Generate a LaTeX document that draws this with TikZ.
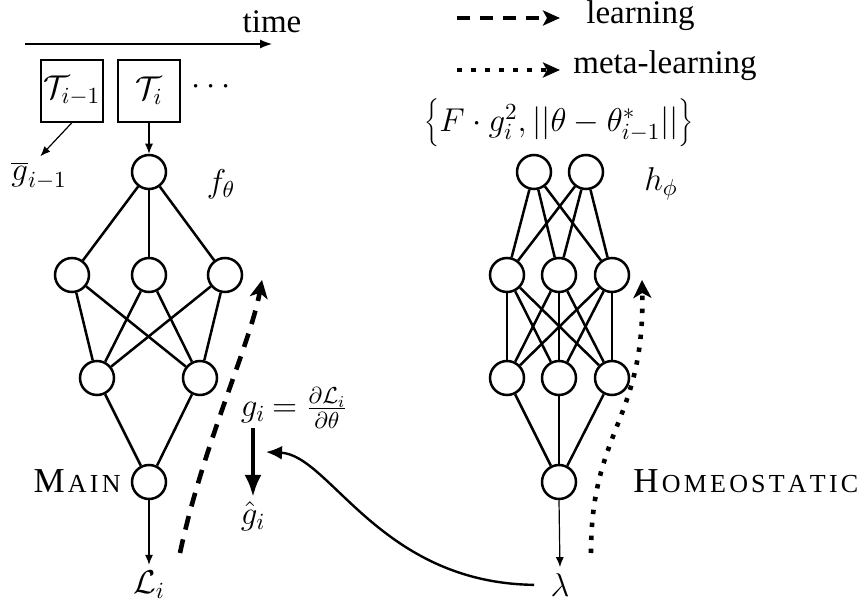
\RequirePackage{fix-cm}
\documentclass[tikz,border=0pt]{standalone}
\usepackage[no-math]{fontspec}
\setmainfont{Liberation Serif}
\usetikzlibrary{arrows.meta,calc}
\newcommand{\mycapbig}{\fontsize{17.5}{20}\selectfont}
\newcommand{\mycapsmall}{\fontsize{13}{16}\selectfont}
\newcommand{\myls}{\kern1.6pt}
\tikzset{
  neuron/.style={circle, draw, line width=1.25pt, minimum size=17pt, inner sep=0pt},
  taskbox/.style={draw, line width=0.6pt, minimum size=31pt, inner sep=0pt},
  conn/.style={line width=1.25pt},
  thinarrow/.style={line width=0.6pt, -{Latex[length=5pt,width=4pt]}},
  learnarrow/.style={line width=2.3pt, dash pattern=on 7pt off 5pt, -{Stealth[length=9pt,width=9pt,inset=2.5pt]}},
  metaarrow/.style={line width=2.3pt, dash pattern=on 2.2pt off 4.3pt, -{Stealth[length=9pt,width=9pt,inset=2.5pt]}},
  legdash/.style={line width=2.2pt, dash pattern=on 6.5pt off 5pt, -{Stealth[length=8.5pt,width=7.5pt,inset=2pt]}},
  legdot/.style={line width=2.3pt, dash pattern=on 2.4pt off 4.6pt, -{Stealth[length=8.5pt,width=7.5pt,inset=2pt]}},
  bigarrow/.style={line width=2pt, -{Latex[length=11pt,width=8.5pt]}},
  curvearrow/.style={line width=1.2pt, -{Latex[length=8pt,width=7pt]}},
  lbl/.style={inner sep=2pt}
}
\begin{document}
\begin{tikzpicture}[x=0.5pt,y=-0.5pt, font=\fontsize{16.5}{20}\selectfont]
\useasboundingbox (0,0) rectangle (862,604);

% time axis
\coordinate (t0) at (25,44);
\coordinate (t1) at (272,44);
\draw[line width=0.6pt, -{Latex[length=6pt,width=4.5pt]}] (t0) -- (t1);
\node[lbl] (time) at (272,22) {time};

% legend
\coordinate (ld0) at (457,18);
\coordinate (ld1) at (560,18);
\draw[legdash] (ld0) -- (ld1);
\node[inner sep=0pt, anchor=west] (learn) at (586,16) {learning};
\coordinate (lm0) at (457,70);
\coordinate (lm1) at (560,70);
\draw[legdot] (lm0) -- (lm1);
\node[inner sep=0pt, anchor=west] (meta) at (573,66) {meta-learning};

% tasks
\node[taskbox] (Tim1) at (72,91) {$\mathcal{T}_{i-1}$};
\node[taskbox] (Ti) at (149,91) {$\mathcal{T}_i$};
\node[lbl] (dots) at (211,87) {$\cdots$};
\node[lbl] (gbar) at (39,176) {$\overline{g}_{i-1}$};
\draw[thinarrow, shorten >=1pt] (Tim1.south) -- (gbar.north);

% main network
\node[neuron] (m0) at (149,172) {};
\node[neuron] (m1) at (72,275) {};
\node[neuron] (m2) at (149,275) {};
\node[neuron] (m3) at (225,275) {};
\node[neuron] (m4) at (97,378) {};
\node[neuron] (m5) at (200,378) {};
\node[neuron] (m6) at (149,482) {};
\draw[thinarrow] (Ti.south) -- (m0.north);
\foreach \a in {m1,m2,m3} \draw[conn] (m0) -- (\a);
\foreach \a in {m1,m2,m3} \foreach \b in {m4,m5} \draw[conn] (\a) -- (\b);
\foreach \a in {m4,m5} \draw[conn] (\a) -- (m6);
\node[lbl] (ftheta) at (221,184) {$f_\theta$};
\node[lbl, anchor=east] (main) at (125,481) {{\mycapbig M\myls}{\mycapsmall A\myls I\myls N}};
\node[lbl] (Li) at (149,585) {$\mathcal{L}_i$};
\draw[thinarrow, shorten >=1pt] (m6.south) -- (Li.north);

% gradient
\node[lbl] (gi) at (253,413) {$g_i$};
\node[lbl, anchor=base west, inner sep=0pt] (gfrac) at ($(gi.base east)+(2,0)$) {$=\frac{\partial\mathcal{L}_i}{\partial\theta}$};
\node[lbl] (ghat) at (253,516) {$\hat{g}_i$};
\draw[bigarrow] (gi.south) -- (ghat.north);

% learning arrow
\coordinate (la0) at (180,553);
\coordinate (la1) at (262,280);
\draw[learnarrow] (la0) .. controls (203,445) and (250,345) .. (la1);

% homeostatic network
\node[inner sep=0pt] (set) at (559,123) {$\bigg\{F\cdot g_i^2, ||\theta-\theta^*_{i-1}||\bigg\}$};
\node[neuron] (h1) at (534,172) {};
\node[neuron] (h2) at (586,172) {};
\node[neuron] (h3) at (507,275) {};
\node[neuron] (h4) at (559,275) {};
\node[neuron] (h5) at (612,275) {};
\node[neuron] (h6) at (507,378) {};
\node[neuron] (h7) at (559,378) {};
\node[neuron] (h8) at (612,378) {};
\node[neuron] (h9) at (559,482) {};
\foreach \a in {h1,h2} \foreach \b in {h3,h4,h5} \draw[conn] (\a) -- (\b);
\foreach \a in {h3,h4,h5} \foreach \b in {h6,h7,h8} \draw[conn] (\a) -- (\b);
\foreach \a in {h6,h7,h8} \draw[conn] (\a) -- (h9);
\node[lbl] (hphi) at (661,184) {$h_\phi$};
\node[lbl, anchor=west] (homeo) at (629,481) {{\mycapbig H\myls}{\mycapsmall O\myls M\myls E\myls O\myls S\myls T\myls A\myls T\myls I\myls C}};
\node[lbl] (lam) at (560,585) {$\lambda$};
\draw[thinarrow, shorten >=1pt] (h9.south) -- (lam.north);

% meta-learning arrow
\coordinate (ma0) at (591,553);
\coordinate (ma1) at (642,280);
\draw[metaarrow] (ma0) .. controls (591,430) and (645,420) .. (ma1);

% lambda to gradient
\coordinate (gtarget) at (266,452);
\draw[curvearrow, shorten <=6pt] (lam.west) .. controls (380,583) and (330,455) .. (gtarget);
\end{tikzpicture}
\end{document}
